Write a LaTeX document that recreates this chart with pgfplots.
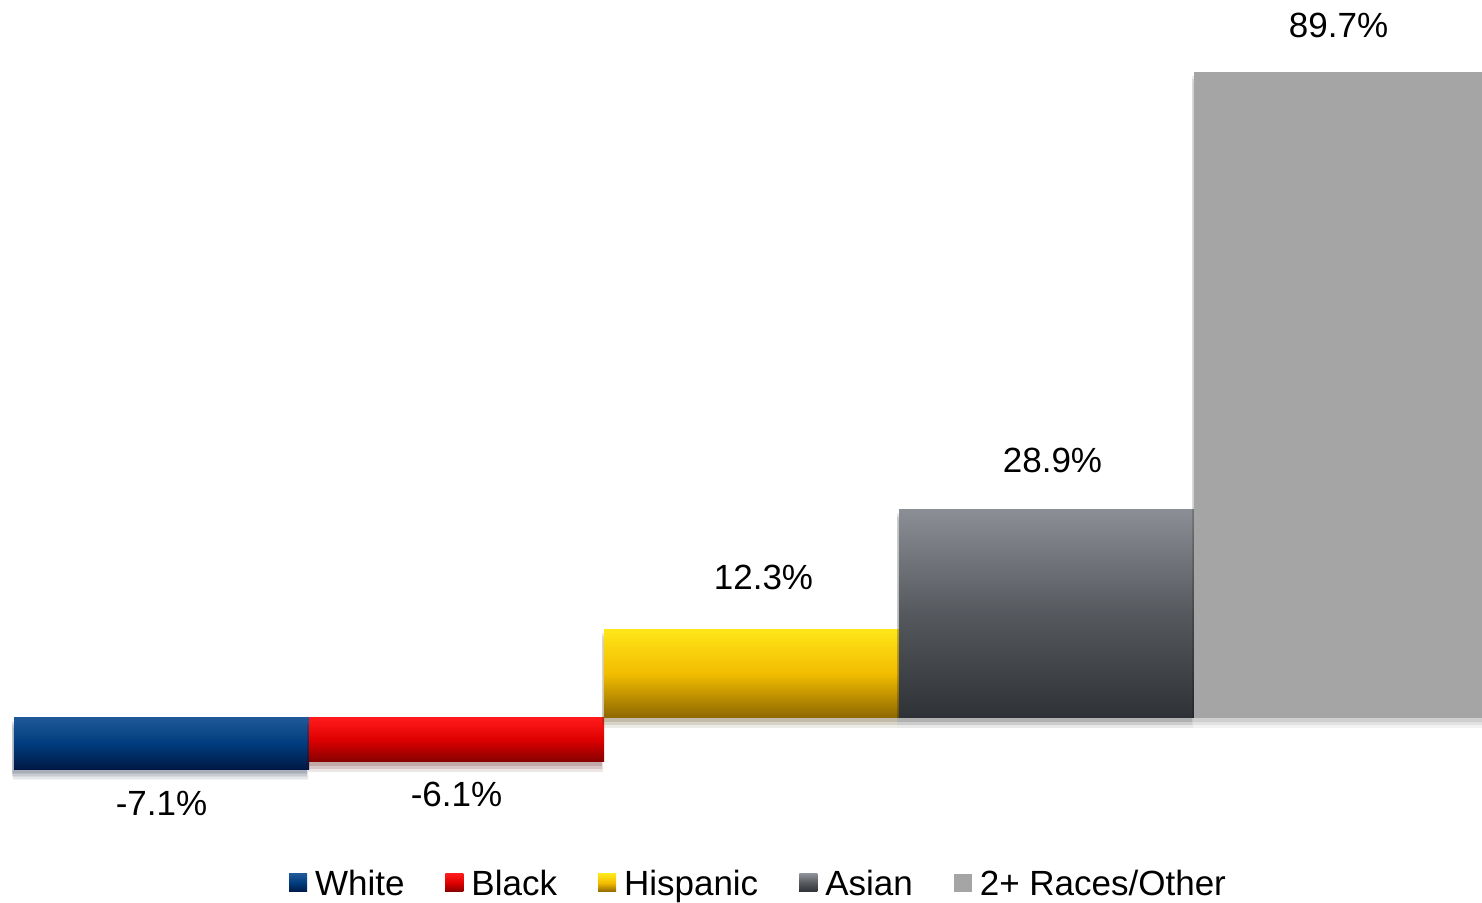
\documentclass[border=0pt]{standalone}
\usepackage{fontspec}
\setmainfont{Liberation Sans}
\usepackage{pgfplots}
\pgfplotsset{compat=1.18}
\usetikzlibrary{shadows}
\definecolor{wT}{HTML}{1F5899}\definecolor{wM}{HTML}{003C7D}\definecolor{wB}{HTML}{001845}
\definecolor{bT}{HTML}{FF1A1A}\definecolor{bM}{HTML}{DD0000}\definecolor{bB}{HTML}{850000}
\definecolor{hT}{HTML}{FFE619}\definecolor{hM}{HTML}{F2BC00}\definecolor{hB}{HTML}{8C6600}
\definecolor{aT}{HTML}{8B8E94}\definecolor{aM}{HTML}{55585D}\definecolor{aB}{HTML}{2E3135}
\definecolor{oF}{HTML}{A5A5A5}
\tikzset{barshadow/.style={
  drop shadow={shadow xshift=-0.5pt, shadow yshift=-5pt, opacity=0.05, fill=black},
  drop shadow={shadow xshift=-1pt, shadow yshift=-3.5pt, opacity=0.07, fill=black},
  drop shadow={shadow xshift=-1pt, shadow yshift=-2pt, opacity=0.08, fill=black}}}
\begin{document}
\begin{tikzpicture}
\begin{axis}[
  at={(7pt,56.5pt)}, anchor=south west,
  scale only axis, width=737.5pt, height=378pt,
  xmin=-0.5, xmax=4.5, ymin=-10, ymax=95,
  hide axis, clip=false,
  ybar, bar width=1, bar shift=0pt,
  /pgf/number format/assume math mode=true,
  nodes near coords={\pgfmathprintnumber[fixed,precision=1,fixed zerofill]{\pgfplotspointmeta}\%},
  every node near coord/.append style={font=\fontsize{17.5pt}{21pt}\selectfont, anchor=center, text=black},
  legend image code/.code={\fill[draw=none,#1] (0pt,-4pt) rectangle (9pt,5pt);},
  legend columns=5,
  legend style={draw=none, fill=none, at={(0.5054,-0.1243)}, anchor=center,
    font=\fontsize{17.5pt}{21pt}\selectfont, inner sep=0pt,
    /tikz/every odd column/.append style={column sep=2pt},
    /tikz/every even column/.append style={column sep=18.5pt}},
  legend cell align=left,
]
\addplot[draw=none, top color=wT, bottom color=wB, middle color=wM, forget plot, barshadow,
  every node near coord/.append style={yshift=-17pt}] coordinates {(0,-7.1)};
\addplot[draw=none, top color=bT, bottom color=bB, middle color=bM, forget plot, barshadow,
  every node near coord/.append style={yshift=-16.5pt}] coordinates {(1,-6.1)};
\addplot[draw=none, top color=hT, bottom color=hB, middle color=hM, forget plot, barshadow,
  every node near coord/.append style={yshift=26pt, xshift=6pt}] coordinates {(2,12.3)};
\addplot[draw=none, top color=aT, bottom color=aB, middle color=aM, forget plot, barshadow,
  every node near coord/.append style={yshift=24.5pt, xshift=3pt}] coordinates {(3,28.9)};
\addplot[draw=none, fill=oF, forget plot, barshadow,
  every node near coord/.append style={yshift=23.5pt, xshift=-1.5pt}] coordinates {(4,89.7)};
\addlegendimage{top color=wT, bottom color=wB, middle color=wM}
\addlegendimage{top color=bT, bottom color=bB, middle color=bM}
\addlegendimage{top color=hT, bottom color=hB, middle color=hM}
\addlegendimage{top color=aT, bottom color=aB, middle color=aM}
\addlegendimage{fill=oF}
\legend{White, Black, Hispanic, Asian, 2+ Races/Other}
\end{axis}
\pgfresetboundingbox
\path[use as bounding box] (0,0) rectangle (741pt,451.5pt);
\end{tikzpicture}
\end{document}
